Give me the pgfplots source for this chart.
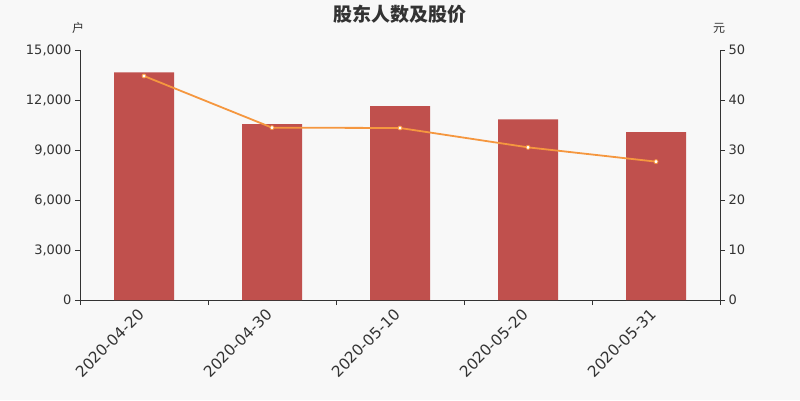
\documentclass[border=0pt]{standalone}
\usepackage{pgfplots}
\pgfplotsset{compat=1.18}
\usepackage{fontspec}
\setmainfont{DejaVu Sans}
\newfontfamily\cjk{Noto Sans CJK SC}

\definecolor{bg}{HTML}{F8F8F8}
\definecolor{barred}{HTML}{C0504D}
\definecolor{lineor}{HTML}{F5973F}
\definecolor{axgray}{HTML}{333333}

\pgfplotsset{
  base/.style={
    scale only axis, width=640pt, height=250pt,
    at={(80pt,100pt)}, anchor=south west,
    xmin=-0.5, xmax=4.5,
    axis line style={axgray, line width=0.8pt},
    tick style={axgray, line width=0.8pt},
    major tick length=5pt,
    tick align=outside,
    ticklabel style={font=\fontsize{13}{13}\selectfont, text=axgray},
    /pgf/number format/assume math mode=true,
    /pgf/number format/1000 sep={,},
    scaled y ticks=false,
  }
}

\begin{document}
\begin{tikzpicture}[x=1pt,y=1pt]
\fill[bg] (0,0) rectangle (800,400);
\useasboundingbox (0,0) rectangle (800,400);

\node[text=axgray, font=\cjk\bfseries\fontsize{19}{19}\selectfont] at (400,386) {股东人数及股价};
\node[text=axgray, font=\cjk\fontsize{12}{12}\selectfont] at (78,372) {户};
\node[text=axgray, font=\cjk\fontsize{12}{12}\selectfont] at (719,372) {元};

\begin{axis}[base,
  axis y line*=left, axis x line*=bottom,
  ymin=0, ymax=15000, ytick={0,3000,...,15000},
  xtick={-0.5,0.5,...,4.5}, xticklabels={},
  extra x ticks={0,1,2,3,4},
  extra x tick labels={2020-04-20,2020-04-30,2020-05-10,2020-05-20,2020-05-31},
  extra x tick style={major tick length=0pt,
    ticklabel style={font=\fontsize{15.3}{15.3}\selectfont, xshift=-7pt, yshift=-6pt, rotate=45, anchor=north east, inner sep=1pt}},
  ybar, bar width=60pt, bar shift=0pt,
]
\addplot[fill=barred, draw=none] coordinates {
  (0,13660) (1,10560) (2,11640) (3,10840) (4,10080)
};
\end{axis}

\begin{axis}[base,
  axis y line*=right, axis x line=none,
  ymin=0, ymax=50, ytick={0,10,...,50},
]
\addplot[lineor, line width=1.8pt, mark=*, mark size=2pt,
  mark options={fill=white, draw=lineor, line width=0.8pt}] coordinates {
  (0,44.8) (1,34.47) (2,34.4) (3,30.53) (4,27.67)
};
\end{axis}
\end{tikzpicture}
\end{document}
